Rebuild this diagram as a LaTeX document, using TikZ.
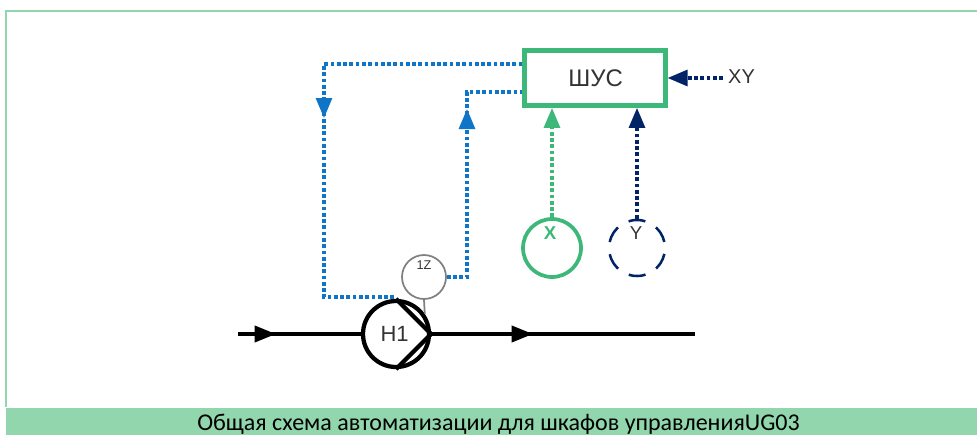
\documentclass[tikz,border=0pt]{standalone}
\usepackage{fontspec}
\setmainfont{Liberation Sans}
\newfontfamily\captionfont{Carlito}
\usepackage{tikz}
\usetikzlibrary{arrows.meta}
\definecolor{framegreen}{HTML}{92D6AD}
\definecolor{boxgreen}{HTML}{3DB878}
\definecolor{sigblue}{HTML}{0F75C8}
\definecolor{signavy}{HTML}{002466}
\definecolor{labelgray}{HTML}{333333}
\tikzset{
    sigline/.style={line width=2.3pt, dash pattern=on 2.8pt off 1.9pt},
    bigtip/.style={-{Triangle[length=15pt,width=12pt]}},
    pipe/.style={line width=2.8pt, black},
    pipetip/.style={-{Triangle[length=16pt,width=12pt]}},
}
\begin{document}
\begin{tikzpicture}[x=0.75pt,y=-0.75pt]
        \useasboundingbox (0,0) rectangle (977,435);

        % frame and caption
        \coordinate (frametop) at(977,11);
        \coordinate (framecorner) at(6,11);
        \node (band) at(977,435) [
            rectangle, anchor=south east, inner sep=0pt,
            minimum width=728.25pt, minimum height=20.25pt,
            fill=framegreen,
        ] {};
        \draw[framegreen, line width=1.2pt] (frametop) -- (framecorner) -- (framecorner |- band.north);
        \node (caption) at(498.5,424) [
            inner sep=0pt, text=black,
        ] {\captionfont\fontsize{18pt}{21pt}\selectfont Общая схема автоматизации для шкафов управленияUG03};

        % control box
        \node (shus) at(595,78) [
            rectangle, inner sep=0pt,
            minimum width=105.5pt, minimum height=41.5pt,
            draw=boxgreen, line width=3.4pt, fill=white,
            text=labelgray, font=\fontsize{18pt}{20pt}\selectfont,
        ] {\hspace{1pt}ШУС};

        % sensors
        \node (sensorx) at(552,248) [
            circle, inner sep=0pt, minimum size=43.5pt,
            draw=boxgreen, line width=2.8pt,
        ] {};
        \node (sensorxlabel) at(550,233) [
            inner sep=0pt, text=boxgreen, font=\bfseries\fontsize{14pt}{15pt}\selectfont,
        ] {X};
        \node (sensory) at(637,248) [
            circle, inner sep=0pt, minimum size=42pt,
            draw=signavy, line width=1.9pt,
            dash pattern=on 12.75pt off 9.24pt, dash phase=17.37pt,
        ] {};
        \node (sensorylabel) at(636,233) [
            inner sep=0pt, text=labelgray, font=\fontsize{14pt}{15pt}\selectfont,
        ] {Y};

        % pump and its speed sensor
        \node (pump) at(396,334) [
            circle, inner sep=0pt, minimum size=49.5pt,
            draw=black, line width=3.2pt,
            text=labelgray, font=\fontsize{16.5pt}{18pt}\selectfont,
        ] {\hspace{-2pt}H1};
        \draw[black, line width=3.2pt, line join=miter] (pump.north) -- (pump.east) -- (pump.south);
        \node (speed) at(424,277) [
            circle, inner sep=0pt, minimum size=33pt,
            draw=gray, line width=1.3pt,
        ] {};
        \node (speedlabel) at(424,265) [
            inner sep=0pt, text=labelgray, font=\fontsize{9.5pt}{11pt}\selectfont,
        ] {1Z};
        \draw[gray, line width=1.3pt] (speed.south) -- (pump.35);

        % main line
        \coordinate (linestart) at(238,334);
        \coordinate (intip) at(276,334);
        \coordinate (outtip) at(533,334);
        \coordinate (lineend) at(695,334);
        \draw[pipe, pipetip] (linestart) -- (intip);
        \draw[pipe] ([xshift=-6pt]intip) -- (pump.west);
        \draw[pipe, pipetip] (pump.east) -- (outtip);
        \draw[pipe] ([xshift=-6pt]outtip) -- (lineend);

        % blue signals
        \coordinate (outcorner) at(324,64);
        \coordinate (outtipd) at(324,118);
        \coordinate (outlow) at(324,297);
        \draw[sigline, sigblue, bigtip] (shus.west |- outcorner) -- (outcorner) -- (outtipd);
        \draw[sigline, sigblue] ([yshift=4pt]outtipd) -- (outlow) -- (outlow -| pump.north);
        \coordinate (fbcorner) at(467,92);
        \coordinate (fbtip) at(467,109);
        \coordinate (fblow) at(467,277);
        \draw[sigline, sigblue, bigtip] (speed.east) -- (fblow) -- (fbtip);
        \draw[sigline, sigblue] ([yshift=-4pt]fbtip) -- (fbcorner) -- (fbcorner -| shus.west);

        % sensor signals
        \draw[sigline, boxgreen, bigtip] (sensorx.north) -- (sensorx.north |- shus.south);
        \draw[sigline, signavy, bigtip] (sensory.north) -- (sensory.north |- shus.south);

        % external signal
        \node (xylabel) at(741.5,77) [
            inner sep=0pt, text=labelgray, font=\fontsize{15pt}{16pt}\selectfont,
        ] {XY};
        \coordinate (xystart) at(723,78);
        \draw[sigline, signavy, bigtip] (xystart) -- (xystart -| shus.east);
\end{tikzpicture}
\end{document}
